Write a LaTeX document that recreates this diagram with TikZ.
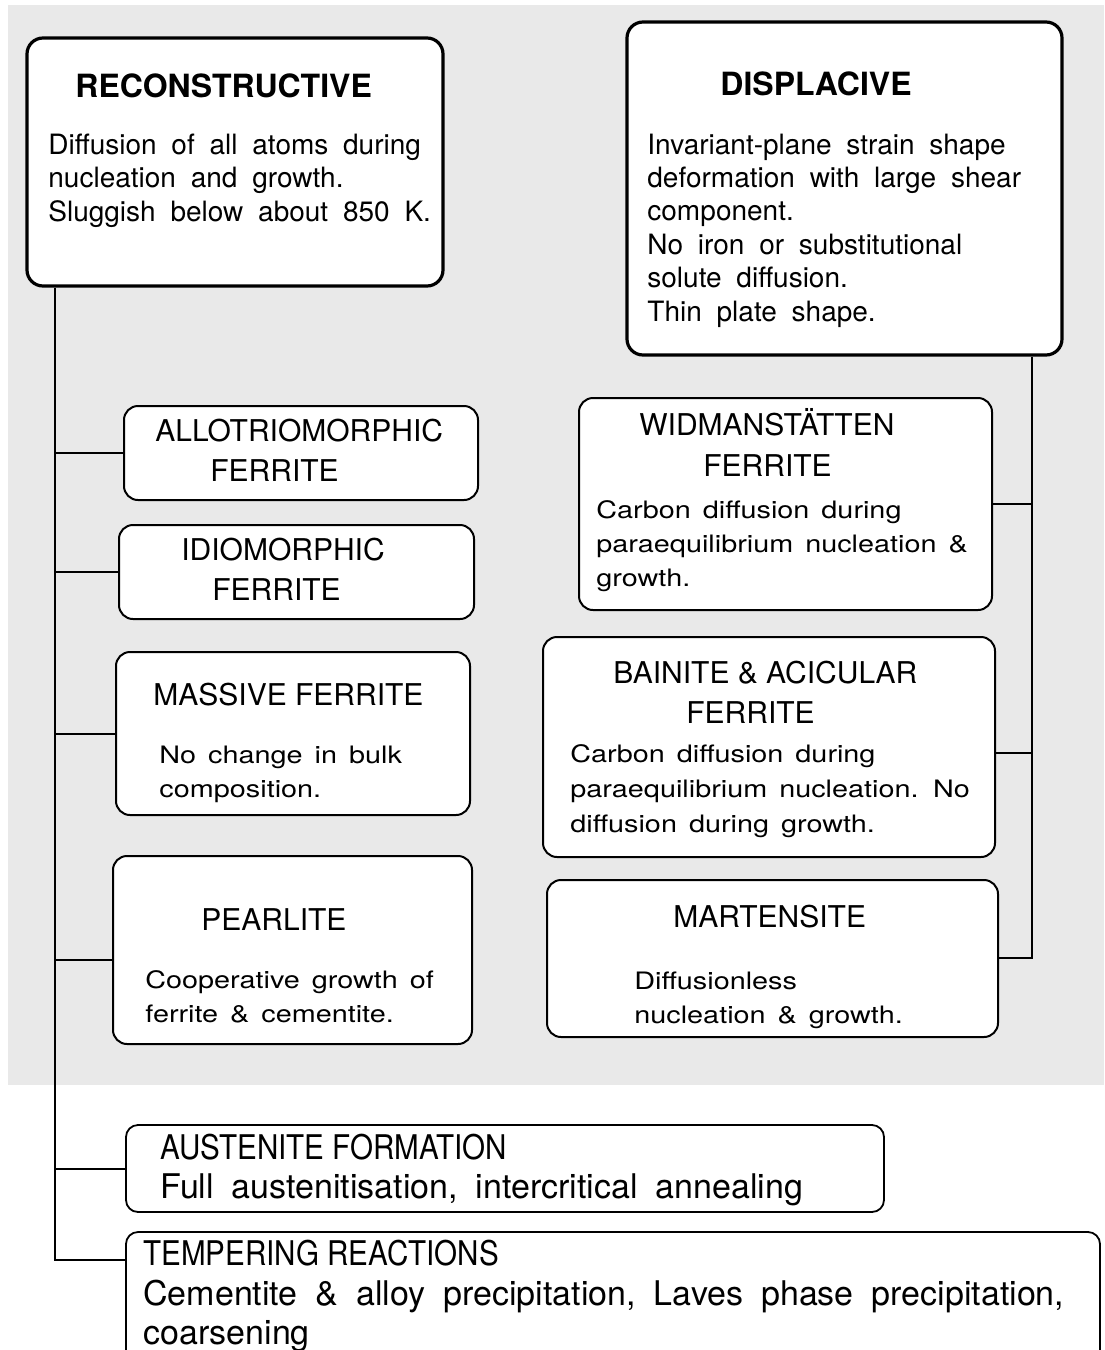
\documentclass[tikz,border=0pt]{standalone}
\usepackage{fontspec}
\setmainfont{TeX Gyre Heros}
\newfontfamily\bodyfont[WordSpace=1.05]{TeX Gyre Heros}
\newfontfamily\widefont[FakeStretch=1.2, WordSpace=1.5]{TeX Gyre Heros}
\newfontfamily\narrowfont[FakeStretch=0.87]{TeX Gyre Heros}
\newfontfamily\lowfont[WordSpace=1.9]{TeX Gyre Heros}
\usetikzlibrary{positioning}
\definecolor{screengray}{RGB}{233, 233, 233}

\begin{document}
\begin{tikzpicture}[x=0.5pt, y=-0.5pt,
	mainbox/.style={draw, fill=white, line width=1.6pt, rounded corners=8pt, inner sep=0pt},
	subbox/.style={draw, fill=white, line width=1pt, rounded corners=7pt, inner sep=0pt},
	lowbox/.style={draw, fill=white, line width=0.9pt, rounded corners=6pt, inner sep=0pt},
	bighead/.style={anchor=base west, inner sep=0pt, font=\bfseries\fontsize{16}{19}\selectfont},
	mainbody/.style={anchor=base west, inner sep=0pt, align=left,
		font=\bodyfont\fontsize{14}{16.7}\selectfont},
	subhead/.style={anchor=base west, inner sep=0pt, align=left,
		font=\fontsize{15}{20}\selectfont},
	subbody/.style={anchor=base west, inner sep=0pt, align=left,
		font=\widefont\fontsize{12}{17}\selectfont},
	lowhead/.style={anchor=base west, inner sep=0pt, font=\narrowfont\fontsize{17}{20}\selectfont},
	lowbody/.style={anchor=base west, inner sep=0pt, align=left,
		font=\lowfont\fontsize{17}{19.5}\selectfont},
	conn/.style={line width=1pt}
	]
	\useasboundingbox (0,0) rectangle (1104,1350);
	\clip (0,0) rectangle (1104,1350);
	\fill[screengray] (8,5) rectangle (1104,1085);

	% the two families (multi-line texts sit on their last baseline)
	\node[mainbox, minimum width=208pt, minimum height=124pt] (recon) at (235,162) {};
	\node[mainbox, minimum width=217.5pt, minimum height=166.5pt] (displ) at (844.5,188.5) {};
	\node[bighead] (recon-h) at (75,97) {RECONSTRUCTIVE};
	\node[mainbody] (recon-b) at (48,221)
	{Diffusion of all atoms during\\nucleation and growth.\\Sluggish below about 850 K.};
	\node[bighead] (displ-h) at (720,95) {DISPLACIVE};
	\node[mainbody] (displ-b) at (647,321)
	{Invariant-plane strain shape\\deformation with large shear\\component.\\No iron or substitutional\\solute diffusion.\\Thin plate shape.};

	% reconstructive products
	\node[subbox, minimum width=177pt, minimum height=47pt] (allo) at (301,453) {};
	\node[subhead] (allo-h) at (155,481) {ALLOTRIOMORPHIC\\\hspace*{27.5pt}FERRITE};
	\node[subbox, minimum width=177.5pt, minimum height=47pt] (idio) at (296.5,572) {};
	\node[subhead] (idio-h) at (181,600) {IDIOMORPHIC\\\hspace*{15.5pt}FERRITE};
	\node[subbox, minimum width=177pt, minimum height=81.5pt] (mass) at (293,733.5) {};
	\node[subhead] (mass-h) at (153,705) {MASSIVE FERRITE};
	\node[subbody] (mass-b) at (159,797) {No change in bulk\\composition.};
	\node[subbox, minimum width=179.5pt, minimum height=94pt] (pearl) at (292.5,950) {};
	\node[subhead] (pearl-h) at (201,930) {PEARLITE};
	\node[subbody] (pearl-b) at (145,1022) {Cooperative growth of\\ferrite \& cementite.};

	% displacive products
	\node[subbox, minimum width=206.5pt, minimum height=106pt] (widm) at (785.5,504) {};
	\node[subhead, font=\fontsize{15}{20.5}\selectfont] (widm-h) at (639,476) {WIDMANSTÄTTEN\\\hspace*{32pt}FERRITE};
	\node[subbody] (widm-b) at (596,586)
	{Carbon diffusion during\\paraequilibrium nucleation \&\\growth.};
	\node[subbox, minimum width=226pt, minimum height=110pt] (bain) at (769,747) {};
	\node[subhead] (bain-h) at (613,723) {BAINITE \& ACICULAR\\\hspace*{36.5pt}FERRITE};
	\node[subbody, font=\widefont\fontsize{12}{17.3}\selectfont] (bain-b) at (570,832)
	{Carbon diffusion during\\paraequilibrium nucleation. No\\diffusion during growth.};
	\node[subbox, minimum width=225.5pt, minimum height=78.5pt] (mart) at (772.5,958.5) {};
	\node[subhead] (mart-h) at (673,927) {MARTENSITE};
	\node[subbody] (mart-b) at (634,1023) {Diffusionless\\nucleation \& growth.};

	% heat treatment
	\node[lowbox, minimum width=379pt, minimum height=43.5pt] (aust) at (505,1168.5) {};
	\node[lowhead] (aust-h) at (160,1159) {AUSTENITE FORMATION};
	\node[lowbody] (aust-b) at (160,1198) {Full austenitisation, intercritical annealing};
	\node[lowbox, minimum width=487pt, minimum height=74pt] (temp) at (613,1306) {};
	\node[lowhead] (temp-h) at (143,1265) {TEMPERING REACTIONS};
	\node[lowbody] (temp-b) at (143,1344)
	{Cementite \& alloy precipitation, Laves phase precipitation,\\coarsening};

	% trunks and branches
	\coordinate (ltrunk) at (55,1260);
	\coordinate (rtrunk) at (1032,958);
	\draw[conn] (recon.south -| ltrunk) -- (ltrunk) -- (temp.west |- ltrunk);
	\draw[conn] (displ.south -| rtrunk) -- (rtrunk) -- (mart.east |- rtrunk);
	\foreach \n in {allo, idio, mass, aust}
	\draw[conn] (\n.west) -- (\n.west -| ltrunk);
	\draw[conn] ([yshift=-5pt]pearl.west) -- ([yshift=-5pt]pearl.west -| ltrunk);
	\draw[conn] (widm.east) -- (widm.east -| rtrunk);
	\draw[conn] ([yshift=-3pt]bain.east) -- ([yshift=-3pt]bain.east -| rtrunk);
\end{tikzpicture}
\end{document}
